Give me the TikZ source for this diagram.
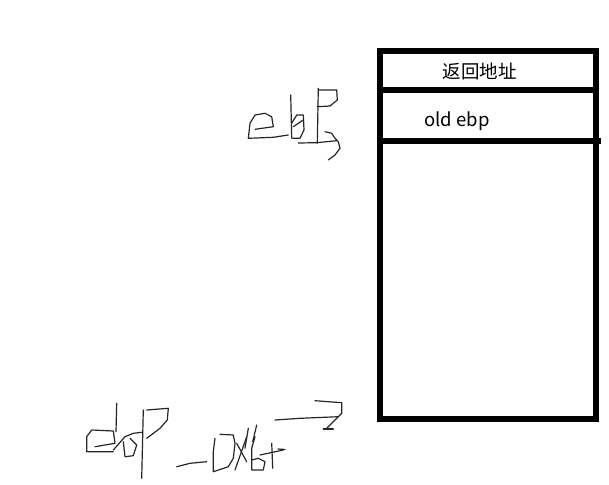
\documentclass[tikz,border=0pt]{standalone}
\usepackage{fontspec}
\newfontfamily\cjk{Noto Sans CJK SC}
\begin{document}
\begin{tikzpicture}[x=1pt,y=-1pt,
  frame/.style={line width=6pt,line join=miter},
  sep/.style={line width=5.5pt},
  hand/.style={line width=1.2pt,color=black!85,line join=round,line cap=round},
  lbl/.style={font=\cjk\fontsize{18.5}{20}\selectfont,inner sep=0pt}]
\useasboundingbox (0,0) rectangle (609,484);
% stack frame
\draw[frame] (380,51) rectangle (596,419);
\draw[sep] (380,90) -- (596,90);
\draw[sep] (380,141) -- (601,141);
\node[lbl] (ret) at (479.5,71) {返回地址};
\node[lbl] (old) at (457,121) {old ebp};
% handwritten "ebp ->"
\draw[hand] (255,129.3) -- (273.3,126.7) -- (271.7,116.7) -- (265,113.3) -- (255,115) -- (250,123.3) -- (248.3,138.3) -- (273.3,137.3) -- (288.3,135);
\draw[hand] (290.7,95) -- (291.7,138.3);
\draw[hand] (291.7,123.3) -- (296.7,115) -- (303.3,115) -- (304,130) -- (300,138.3) -- (292.7,138.3);
\draw[hand] (293.3,126.7) -- (303.3,120);
\draw[hand] (318.3,88.3) -- (317.3,143.3);
\draw[hand] (318.3,90) -- (336.7,90) -- (337.3,100) -- (330,106) -- (317.3,106.7);
\draw[hand] (298.3,143) -- (316.7,142.7) -- (336.7,140.7);
\draw[hand] (325,131.7) -- (331.7,133.3) -- (335,138.3) -- (338.3,141.7) -- (340,148.3) -- (335,155) -- (328.3,160);
% handwritten "ebp -0x64 ->"
\draw[hand] (95,446.7) -- (115,443.3) -- (113.3,431) -- (91.7,430) -- (86.7,436.7) -- (86.7,451.7) -- (113.3,451.7);
\draw[hand] (116.7,403.3) -- (116,431.7);
\draw[hand] (113.3,450) -- (125,436.7) -- (133.3,433.3) -- (141.7,432.3);
\draw[hand] (123.3,441.7) -- (125,456.7) -- (133.3,455.7) -- (136.7,445) -- (130,438.3);
\draw[hand] (143.3,410) -- (141.7,478.3);
\draw[hand] (146.7,410) -- (168.3,408.3) -- (167.3,420) -- (160,428.3) -- (146.7,438.3);
\draw[hand] (176.7,466.7) -- (190,463.3) -- (206.7,461.7);
\draw[hand] (220,434.3) -- (233.3,435) -- (235,443.3) -- (233.3,458.3) -- (228.3,466.7) -- (213.3,471.7) -- (213.3,451.7) -- (215,438.3);
\draw[hand] (236.7,443.3) -- (246.7,461.7);
\draw[hand] (246.7,436.7) -- (235,470);
\draw[hand] (248.3,428.3) -- (245,448.3);
\draw[hand] (256.7,425) -- (252.7,441.7);
\draw[hand] (255,436.7) -- (251.7,448.3) -- (251.7,470) -- (263.3,470) -- (265,461.7) -- (258.3,458.3) -- (251.7,460);
\draw[hand] (260,455) -- (283.3,450);
\draw[hand] (278,449) -- (285,449.5);
\draw[hand] (271.7,443.3) -- (272.7,468.3);
\draw[hand] (275,420) -- (300,418.3) -- (338.3,416.7);
\draw[hand] (315,400.7) -- (341.7,402.7) -- (341.7,413.3) -- (335,420) -- (326.7,428.3);
\draw[hand] (323.3,429) -- (333.3,429);
\end{tikzpicture}
\end{document}
